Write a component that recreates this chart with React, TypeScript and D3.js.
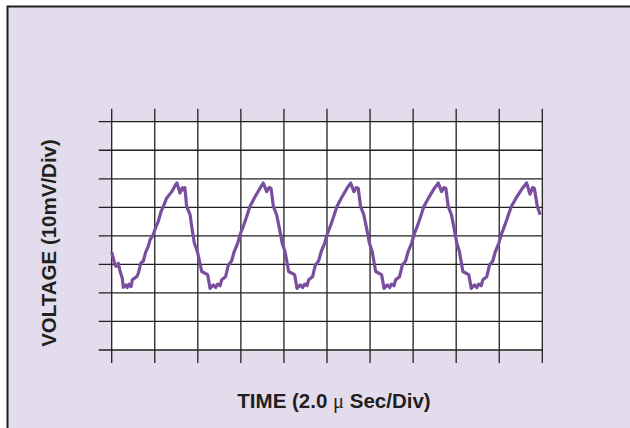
import { useMemo } from "react";
import * as d3 from "d3";

// time axis (µs) and voltage axis (mV), one tick per division
const timeTicks = [0, 2, 4, 6, 8, 10, 12, 14, 16, 18, 20];
const voltTicks = [-40, -30, -20, -10, 0, 10, 20, 30, 40];

// scope trace: [time µs, voltage mV]
const trace: [number, number][] = [
  [0.0, -5.7], [0.15, -10.2], [0.21, -10.7], [0.31, -9.6], [0.39, -12.5], [0.49, -14.8],
  [0.54, -18.1], [0.65, -17.2], [0.72, -18.1], [0.8, -16.9], [0.9, -17.8], [0.96, -15.4],
  [1.16, -14.3], [1.24, -13.1], [1.35, -9.6], [1.47, -8.8], [1.58, -5.7], [1.7, -3.7],
  [1.78, -1.4], [1.93, 0.4], [2.04, 2.9], [2.16, 5.0], [2.29, 8.5], [2.4, 10.3],
  [2.55, 13.2], [2.79, 15.5], [2.97, 17.9], [3.03, 18.5], [3.17, 15.0], [3.28, 16.9],
  [3.34, 16.1], [3.4, 16.9], [3.48, 10.3], [3.64, 7.4], [3.74, 2.1], [3.84, -2.6],
  [3.98, -5.5],
  [4.18, -12.5], [4.33, -13.1], [4.46, -13.7], [4.57, -18.4], [4.72, -17.2], [4.83, -18.1],
  [4.92, -16.9], [5.03, -17.5], [5.11, -15.4], [5.29, -14.3], [5.42, -10.2], [5.57, -8.8],
  [5.69, -5.5], [5.85, -2.6], [5.96, 0.4], [6.11, 3.3], [6.27, 6.8], [6.42, 10.3],
  [6.62, 13.2], [6.89, 16.7], [7.04, 18.5], [7.2, 15.5], [7.31, 16.9], [7.4, 16.7],
  [7.51, 10.3], [7.66, 7.4], [7.82, 1.5], [7.92, -2.6], [8.05, -5.5],
  [8.22, -12.5], [8.37, -13.1], [8.5, -13.7], [8.61, -18.4], [8.76, -17.2], [8.87, -18.1],
  [8.96, -16.9], [9.07, -17.5], [9.15, -15.4], [9.33, -14.3], [9.46, -10.2], [9.61, -8.8],
  [9.73, -5.5], [9.89, -2.6], [10.0, 0.4], [10.15, 3.3], [10.31, 6.8], [10.46, 10.3],
  [10.66, 13.2], [10.93, 16.7], [11.1, 18.5], [11.25, 15.5], [11.36, 16.9], [11.45, 16.7],
  [11.56, 10.3], [11.71, 7.4], [11.87, 1.5], [11.97, -2.6], [12.1, -5.5],
  [12.26, -12.5], [12.41, -13.1], [12.54, -13.7], [12.65, -18.4], [12.8, -17.2], [12.91, -18.1],
  [13.0, -16.9], [13.11, -17.5], [13.19, -15.4], [13.37, -14.3], [13.5, -10.2], [13.65, -8.8],
  [13.77, -5.5], [13.93, -2.6], [14.04, 0.4], [14.19, 3.3], [14.35, 6.8], [14.5, 10.3],
  [14.71, 13.2], [14.99, 16.7], [15.17, 18.5], [15.32, 15.5], [15.43, 16.9], [15.52, 16.7],
  [15.63, 10.3], [15.78, 7.4], [15.93, 1.5], [16.03, -2.6], [16.15, -5.5],
  [16.31, -12.5], [16.46, -13.1], [16.59, -13.7], [16.7, -18.4], [16.85, -17.2], [16.96, -18.1],
  [17.05, -16.9], [17.16, -17.5], [17.24, -15.4], [17.42, -14.3], [17.55, -10.2], [17.7, -8.8],
  [17.82, -5.5], [17.98, -2.6], [18.09, 0.4], [18.24, 3.3], [18.4, 6.8], [18.56, 10.3],
  [18.78, 13.2], [19.08, 16.7], [19.27, 18.5], [19.43, 14.6], [19.55, 16.9], [19.63, 16.7],
  [19.77, 10.3], [19.9, 7.4],
];

const W = 630;
const H = 428;
const PLOT = { left: 111.7, right: 542.3, top: 121.7, bottom: 350 };
const TICK = 13;
const INK = "#231f20";

export default function App() {
  const x = useMemo(
    () => d3.scaleLinear().domain([0, 20]).range([PLOT.left, PLOT.right]),
    []
  );
  const y = useMemo(
    () => d3.scaleLinear().domain([-40, 40]).range([PLOT.bottom, PLOT.top]),
    []
  );

  const line = d3
    .line<[number, number]>()
    .x((d) => x(d[0]))
    .y((d) => y(d[1]));

  return (
    <svg
      width={W}
      height={H}
      viewBox={`0 0 ${W} ${H}`}
      style={{ position: "absolute", left: 0, top: 0 }}
    >
      <rect x={0} y={0} width={W} height={H} fill="#fff" />
      <rect
        x={7.5}
        y={6.5}
        width={W + 20}
        height={H + 20}
        fill="#e3dcec"
        stroke={INK}
        strokeWidth={2}
      />
      <rect
        x={x(0)}
        y={y(40)}
        width={x(20) - x(0)}
        height={y(-40) - y(40)}
        fill="#fff"
      />

      {voltTicks.map((v) => (
        <line
          key={`h${v}`}
          x1={x(0) - TICK}
          x2={x(20)}
          y1={y(v)}
          y2={y(v)}
          stroke={INK}
          strokeWidth={1.3}
        />
      ))}
      {timeTicks.map((t) => (
        <line
          key={`v${t}`}
          x1={x(t)}
          x2={x(t)}
          y1={y(40) - TICK}
          y2={y(-40) + TICK}
          stroke={INK}
          strokeWidth={1.3}
        />
      ))}

      <path
        d={line(trace) ?? ""}
        fill="none"
        stroke="#7a4e9e"
        strokeWidth={3.2}
        strokeLinejoin="round"
      />

      <text
        transform={`translate(56,243) rotate(-90)`}
        textAnchor="middle"
        fontFamily="'Liberation Sans', Arial, sans-serif"
        fontWeight="bold"
        fontSize={20.5}
        fill={INK}
      >
        VOLTAGE (10mV/Div)
      </text>
      <text
        x={334}
        y={408}
        textAnchor="middle"
        fontFamily="'Liberation Sans', Arial, sans-serif"
        fontWeight="bold"
        fontSize={20.5}
        fill={INK}
      >
        TIME (2.0{" "}
        <tspan fontFamily="'Liberation Serif', serif" fontWeight="normal">
          μ
        </tspan>{" "}
        Sec/Div)
      </text>
    </svg>
  );
}
